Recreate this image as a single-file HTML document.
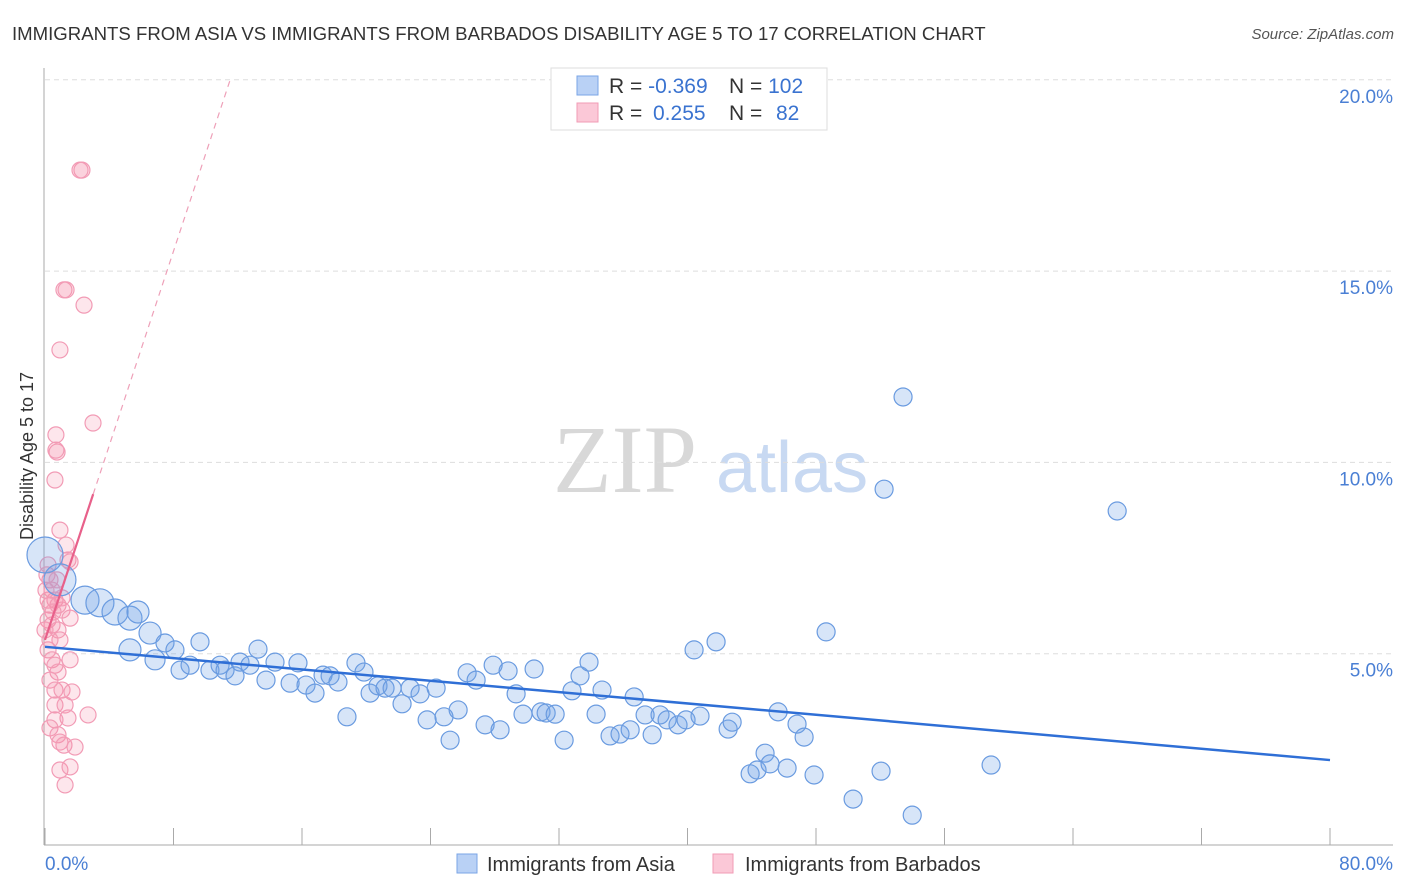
<!DOCTYPE html>
<html><head><meta charset="utf-8"><style>
body{margin:0;background:#fff;font-family:"Liberation Sans",sans-serif}
svg{display:block}
</style></head><body>
<svg id="c" width="1406" height="892">
<text x="12" y="40" font-size="18.6" fill="#333">IMMIGRANTS FROM ASIA VS IMMIGRANTS FROM BARBADOS DISABILITY AGE 5 TO 17 CORRELATION CHART</text>
<text x="1394" y="39" font-size="15" fill="#555" font-style="italic" text-anchor="end">Source: ZipAtlas.com</text>
<text x="33" y="456" font-size="18" fill="#333" text-anchor="middle" transform="rotate(-90 33 456)">Disability Age 5 to 17</text>
<g>
<text x="553" y="492" font-family="Liberation Serif,serif" font-size="96" fill="#d8d8d8">ZIP</text>
<text x="716" y="492" font-size="72" fill="#c8d9f2">atlas</text>
</g>
<g id="grid"></g><g id="axes"></g><g id="pts"></g><g id="lines"></g>
<g>
<rect x="551" y="68" width="276" height="62" fill="#fff" stroke="#ddd"/>
<rect x="577" y="76" width="21" height="19" fill="#b9d1f5" stroke="#7aa5e6"/>
<rect x="577" y="103" width="21" height="19" fill="#fbc8d7" stroke="#f29bb5"/>
<text x="609" y="93" font-size="21" fill="#333">R = <tspan fill="#3a73d0">-0.369</tspan></text>
<text x="729" y="93" font-size="21" fill="#333">N = <tspan fill="#3a73d0">102</tspan></text>
<text x="609" y="120" font-size="21" fill="#333">R = <tspan fill="#3a73d0" x="653">0.255</tspan></text>
<text x="729" y="120" font-size="21" fill="#333">N = <tspan fill="#3a73d0" x="776">82</tspan></text>
</g>
<g>
<rect x="457" y="854" width="20" height="19" fill="#b9d1f5" stroke="#7aa5e6"/>
<text x="487" y="871" font-size="20" fill="#333">Immigrants from Asia</text>
<rect x="713" y="854" width="20" height="19" fill="#fbc8d7" stroke="#f29bb5"/>
<text x="745" y="871" font-size="20" fill="#333">Immigrants from Barbados</text>
</g>
</svg>
<script>
const yTicks=[5,10,15,20];
const yTickLabels=["5.0%","10.0%","15.0%","20.0%"];
const xTicks=[0,8,16,24,32,40,48,56,64,72,80];
const xEndLabels=["0.0%","80.0%"];
const asiaX=[0,0.93,2.49,3.42,4.36,5.29,5.79,6.54,5.29,6.85,7.47,8.09,8.41,9.03,9.65,10.27,10.9,11.21,11.83,12.14,12.76,13.26,13.76,14.32,15.26,15.75,16.25,16.81,17.31,17.75,18.24,18.8,19.36,19.86,20.24,20.73,21.17,21.61,22.23,22.73,23.35,23.79,24.35,24.84,25.22,25.72,26.28,26.84,27.4,27.9,28.33,28.83,29.33,29.76,30.45,30.88,31.2,31.76,32.32,32.81,33.31,33.87,34.31,34.68,35.18,35.8,36.43,36.68,37.36,37.8,38.29,38.73,39.41,39.91,40.41,40.78,41.78,42.53,42.78,43.9,44.33,44.83,45.14,45.64,46.2,46.82,47.26,47.88,48.63,50.31,52.05,52.24,53.42,53.99,58.9,66.75];
const asiaY=[7.58,6.93,6.4,6.33,6.09,5.93,6.09,5.54,5.1,4.84,5.28,5.1,4.57,4.7,5.31,4.57,4.7,4.57,4.42,4.78,4.7,5.12,4.31,4.78,4.23,4.76,4.18,3.97,4.44,4.42,4.26,3.35,4.76,4.52,3.97,4.16,4.1,4.1,3.69,4.1,3.95,3.27,4.1,3.35,2.74,3.53,4.5,4.31,3.14,4.7,3.01,4.55,3.95,3.42,4.6,3.48,3.45,3.42,2.74,4.03,4.42,4.78,3.42,4.05,2.85,2.9,3.01,3.87,3.4,2.88,3.4,3.27,3.14,3.27,5.1,3.37,5.31,3.03,3.21,1.86,1.96,2.4,2.12,3.48,2.01,3.16,2.82,1.83,5.57,1.2,1.93,9.3,11.71,0.78,2.09,8.73];
const asiaSize=[18,16,14,14,13,12,11,11,11,10];
const barbX=[2.3,2.18,1.18,1.31,2.43,0.93,2.99,0.68,0.75,0.62,0.68,0.93,1.31,1.43,1.56,0.19,0.31,0.44,0.62,0.31,0.81,1.06,0.19,0.44,1.56,0.81,0.93,0.19,0.44,0.62,0.81,1.56,0.31,0.62,1.06,1.68,0.62,1.25,1.43,0.62,0.31,0.81,0.93,1.18,1.87,2.68,0.93,1.56,1.25,0.19,0.06,0.12,0.31,0,0.5,0.75,1.06];
const barbY=[17.64,17.64,14.51,14.51,14.11,12.94,11.03,10.72,10.27,9.54,10.32,8.23,7.84,7.45,7.4,7.32,6.93,6.66,6.4,6.27,6.27,6.14,5.88,5.75,5.93,5.62,5.36,5.1,4.84,4.7,4.52,4.84,4.31,4.05,4.05,4,3.66,3.66,3.32,3.27,3.06,2.88,2.69,2.61,2.56,3.4,1.96,2.04,1.57,6.4,6.66,7.06,5.36,5.62,6.09,6.93,6.46];
const asiaTrend=[5.18,2.22];
const barbTrend=[5.36,1.27];
const NS="http://www.w3.org/2000/svg";
const X=v=>45+v*(1285/80), Y=v=>845-v*38.26;
function mk(t,a,p){const e=document.createElementNS(NS,t);for(const k in a)e.setAttribute(k,a[k]);p.appendChild(e);return e;}
const grid=document.getElementById('grid'),axes=document.getElementById('axes'),pts=document.getElementById('pts'),lines=document.getElementById('lines');
yTicks.forEach((t,i)=>{
 const l=mk('line',{x1:45,x2:1393,y1:Y(t),y2:Y(t),stroke:'#ddd','stroke-dasharray':'5,4'},grid);
 
 
 const tx=mk('text',{x:1393,y:Y(t)+23,'font-size':19,fill:'#4a7fd4','text-anchor':'end'},axes);
 tx.textContent=yTickLabels[i];
 
 
});
const ax=mk('line',{x1:44,x2:44,y1:68,y2:845,stroke:'#aaa'},axes);


const bx=mk('line',{x1:44,x2:1393,y1:845,y2:845,stroke:'#aaa'},axes);


xTicks.forEach(t=>{const l=mk('line',{x1:X(t),x2:X(t),y1:828,y2:845,stroke:'#aaa'},axes);
 
 });
const xl0=mk('text',{x:45,y:870,'font-size':19,fill:'#4a7fd4'},axes);xl0.textContent=xEndLabels[0];


const xl1=mk('text',{x:1393,y:870,'font-size':19,fill:'#4a7fd4','text-anchor':'end'},axes);xl1.textContent=xEndLabels[1];


barbX.forEach((v,i)=>{const c=mk('circle',{cx:X(v),cy:Y(barbY[i]),r:8,fill:'rgba(245,140,170,0.22)',stroke:'#f29bb5','stroke-width':1.2},pts);
 
 });
asiaX.forEach((v,i)=>{const c=mk('circle',{cx:X(v),cy:Y(asiaY[i]),r:asiaSize[i]||9,fill:'rgba(110,160,230,0.28)',stroke:'#6a9be0','stroke-width':1.2},pts);
 
 });
const la=mk('line',{x1:X(0),y1:Y(asiaTrend[0]),x2:X(80),y2:Y(asiaTrend[1]),stroke:'#2f6fd6','stroke-width':2.5},lines);


const xs=3, xe=(20-barbTrend[0])/barbTrend[1];
const lb=mk('line',{x1:X(0),y1:Y(barbTrend[0]),x2:X(xs),y2:Y(barbTrend[0]+barbTrend[1]*xs),stroke:'#e8608a','stroke-width':2.2},lines);


const ld=mk('line',{x1:X(xs),y1:Y(barbTrend[0]+barbTrend[1]*xs),x2:X(xe),y2:Y(20),stroke:'#eea0b8','stroke-width':1.2,'stroke-dasharray':'6,5'},lines);


</script>
</body></html>
